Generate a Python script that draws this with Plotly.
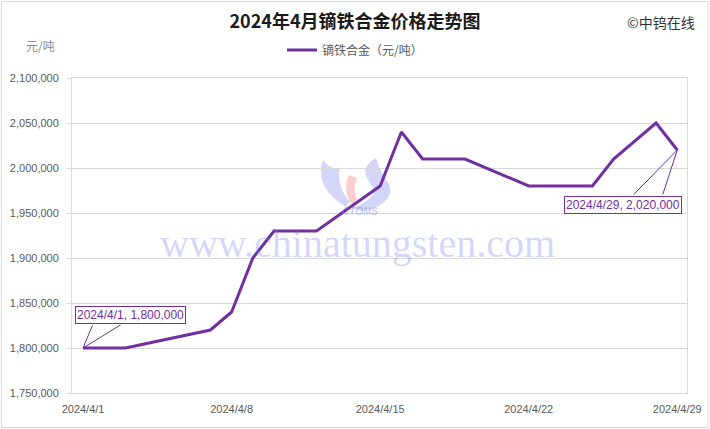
import plotly.graph_objects as go

dates = ["2024-04-01", "2024-04-02", "2024-04-03", "2024-04-07", "2024-04-08",
         "2024-04-09", "2024-04-10", "2024-04-11", "2024-04-12", "2024-04-15",
         "2024-04-16", "2024-04-17", "2024-04-18", "2024-04-19", "2024-04-22",
         "2024-04-23", "2024-04-24", "2024-04-25", "2024-04-26", "2024-04-28",
         "2024-04-29"]
prices = [1800000, 1800000, 1800000, 1820000, 1840000,
          1900000, 1930000, 1930000, 1930000, 1980000,
          2040000, 2010000, 2010000, 2010000, 1980000,
          1980000, 1980000, 1980000, 2010000, 2050000,
          2020000]
tick_dates = ["2024-04-01", "2024-04-08", "2024-04-15", "2024-04-22", "2024-04-29"]
tick_labels = ["2024/4/1", "2024/4/8", "2024/4/15", "2024/4/22", "2024/4/29"]
series_name = "镝铁合金（元/吨）"
title_text = "2024年4月镝铁合金价格走势图"

PURPLE = "#7030A0"
GRID = "#d9d9d9"
TXT = "#595959"
WM_BLUE = "rgba(120,130,235,0.33)"
WM_RED = "rgba(240,110,110,0.35)"

W, H = 710, 429
L, R, T, B = 72, 23, 78, 36
PW, PH = W - L - R, H - T - B

def px(x):
    return (x - L) / PW

def py(y):
    return (H - B - y) / PH

def pixel_path(cmds):
    out = []
    for c in cmds:
        if isinstance(c, str):
            out.append(c)
        else:
            out.append(f"{px(c[0]):.5f},{py(c[1]):.5f}")
    return " ".join(out)

fig = go.Figure()
fig.add_trace(go.Scatter(
    x=dates, y=prices, mode="lines", name=series_name,
    line=dict(color=PURPLE, width=3),
))

def fmt_label(d, v):
    y, m, dd = d.split("-")
    return f"{int(y)}/{int(m)}/{int(dd)}, {v:,}"

annotations = []
# watermark
annotations.append(dict(
    text="www.chinatungsten.com", xref="paper", yref="paper",
    x=px(357), y=py(243), showarrow=False, xanchor="center", yanchor="middle",
    font=dict(family="Liberation Serif, DejaVu Serif, serif", size=40,
              color=WM_BLUE),
))
annotations.append(dict(
    text="<i><b>CTOMS</b></i>", xref="paper", yref="paper",
    x=px(360), y=py(211), showarrow=False, xanchor="center", yanchor="middle",
    font=dict(family="Liberation Sans, Arial, sans-serif", size=10,
              color="rgba(120,130,235,0.4)"),
))

# first point callout
annotations.append(dict(
    text=fmt_label(dates[0], prices[0]), x=dates[0], y=prices[0],
    xref="x", yref="y", showarrow=False, xanchor="left", yanchor="bottom",
    xshift=-8, yshift=24, bgcolor="white", bordercolor=PURPLE, borderwidth=1,
    borderpad=1, font=dict(family="Liberation Sans, Arial", size=12, color=PURPLE),
))
for ax in (10, 39):
    annotations.append(dict(
        text="", x=dates[0], y=prices[0], xref="x", yref="y",
        showarrow=True, arrowhead=0, arrowwidth=1, arrowcolor=PURPLE,
        ax=ax, ay=-24, standoff=0, startstandoff=0,
    ))

# last point callout
annotations.append(dict(
    text=fmt_label(dates[-1], prices[-1]), x=dates[-1], y=prices[-1],
    xref="x", yref="y", showarrow=False, xanchor="right", yanchor="top",
    xshift=5, yshift=-46, bgcolor="white", bordercolor=PURPLE, borderwidth=1,
    borderpad=1, font=dict(family="Liberation Sans, Arial", size=12, color=PURPLE),
))
for ax in (-45, -15):
    annotations.append(dict(
        text="", x=dates[-1], y=prices[-1], xref="x", yref="y",
        showarrow=True, arrowhead=0, arrowwidth=1, arrowcolor=PURPLE,
        ax=ax, ay=46, standoff=0, startstandoff=0,
    ))

# unit label and copyright
annotations.append(dict(
    text="元/吨", xref="paper", yref="paper", x=px(40), y=py(46),
    showarrow=False, xanchor="center", yanchor="middle",
    font=dict(family="Noto Sans CJK SC", size=12, color="#8c8c8c"),
))
annotations.append(dict(
    text="©中钨在线", xref="paper", yref="paper", x=px(697), y=py(22),
    showarrow=False, xanchor="right", yanchor="middle",
    font=dict(family="Noto Sans CJK SC", size=14, color="#333333"),
))

shapes = [dict(
    type="rect", xref="paper", yref="paper",
    x0=px(1.5), x1=px(708), y0=py(427.5), y1=py(1.5),
    line=dict(color=GRID, width=1), fillcolor="rgba(0,0,0,0)", layer="below",
)]
# watermark logo (approximate swooshes)
logo_paths = [
    ([ "M", (323, 160), "Q", (314, 188), (346, 207), "L", (350, 202),
       "Q", (336, 186), (340, 168), "Q", (330, 170), (323, 160), "Z"], WM_BLUE),
    ([ "M", (349, 175), "Q", (342, 190), (352, 205), "L", (357, 200),
       "Q", (352, 188), (357, 178), "Z"], WM_RED),
    ([ "M", (376, 158), "Q", (358, 168), (370, 183), "Q", (382, 197), (352, 208),
       "L", (362, 211), "Q", (396, 204), (389, 184), "Q", (380, 172), (376, 158), "Z"], WM_BLUE),
]
for cmds, col in logo_paths:
    shapes.append(dict(type="path", xref="paper", yref="paper",
                       path=pixel_path(cmds), fillcolor=col,
                       line=dict(width=0), layer="below"))

fig.update_layout(
    width=W, height=H,
    margin=dict(l=L, r=R, t=T, b=B, pad=0, autoexpand=False),
    paper_bgcolor="white", plot_bgcolor="rgba(0,0,0,0)",
    title=dict(text=f"<b>{title_text}</b>", x=0.5, xanchor="center",
               y=1 - 22 / H, yanchor="middle",
               font=dict(family="Noto Sans CJK SC", size=18, color="#1a1a1a")),
    showlegend=True,
    legend=dict(orientation="h", x=px(355), xanchor="center",
                y=py(50), yanchor="middle",
                font=dict(family="Noto Sans CJK SC", size=12, color=TXT),
                bgcolor="rgba(0,0,0,0)", itemwidth=30),
    annotations=annotations,
    shapes=shapes,
    xaxis=dict(
        type="date", range=["2024-03-31 11:30", "2024-04-29 11:00"],
        tickvals=tick_dates, ticktext=tick_labels, showgrid=False,
        showline=True, linecolor=GRID, linewidth=1, mirror=True,
        ticks="", tickangle=0, automargin=False, ticklabelstandoff=6,
        tickfont=dict(family="Liberation Sans, Arial", size=11, color=TXT),
        zeroline=False,
    ),
    yaxis=dict(
        range=[1750000, 2100000], dtick=50000, tickformat=",",
        showgrid=True, gridcolor=GRID, gridwidth=1,
        showline=True, linecolor=GRID, linewidth=1, mirror=True,
        ticks="outside", ticklen=4, tickcolor=GRID, automargin=False,
        ticklabelstandoff=6,
        tickfont=dict(family="Liberation Sans, Arial", size=11, color=TXT),
        zeroline=False,
    ),
)

fig.write_html("out.html", config={"displayModeBar": False},
               post_script="document.body.style.margin='0';")
